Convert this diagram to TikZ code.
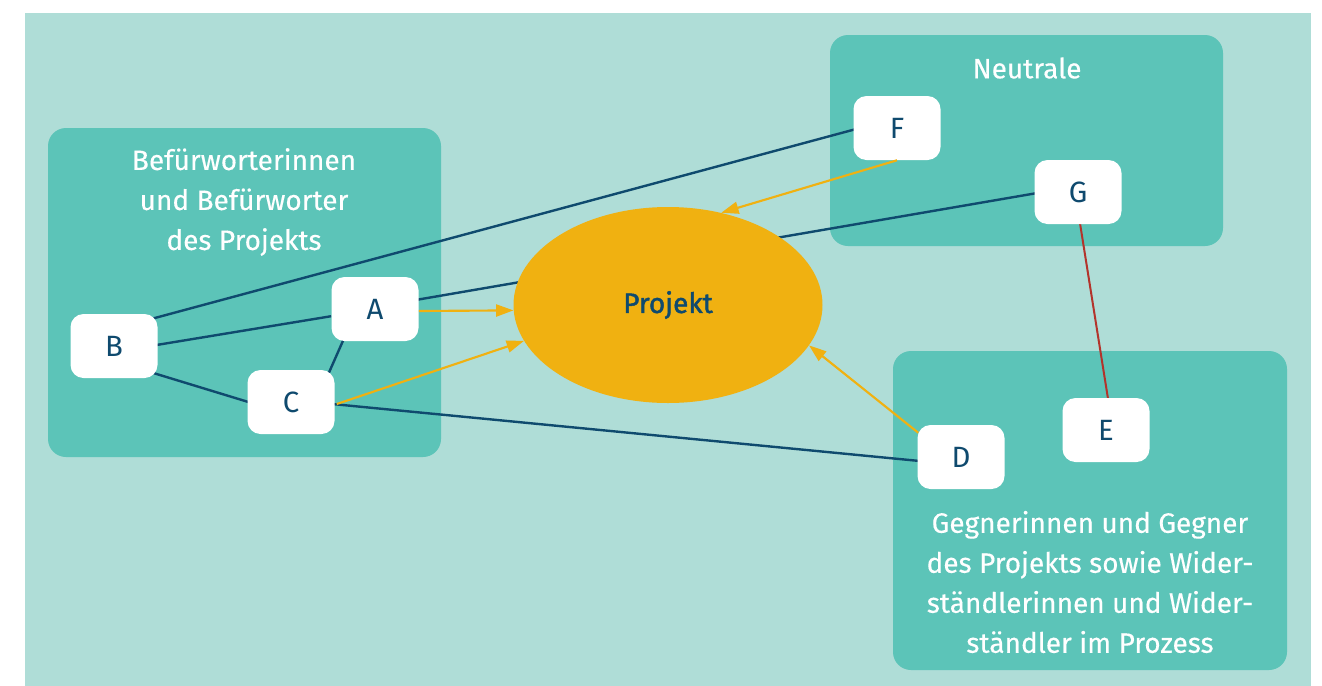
\documentclass[tikz,border=0pt]{standalone}
\usepackage{fontspec}
\setmainfont{Fira Sans}[FakeBold=0.3]
\newfontfamily\projfont{Fira Sans}[FakeBold=1.6]
\newfontfamily\actorfont{Fira Sans}
\usetikzlibrary{calc,arrows.meta,shapes.geometric}
\definecolor{bgteal}{HTML}{AFDDD7}
\definecolor{grpteal}{HTML}{5CC4B8}
\definecolor{projyellow}{HTML}{F0B111}
\definecolor{navy}{HTML}{0F4A6E}
\definecolor{redline}{HTML}{B3332B}
\pgfdeclarelayer{bg}
\pgfdeclarelayer{lines}
\pgfsetlayers{bg,lines,main}
\begin{document}
\begin{tikzpicture}[x=0.75pt,y=-0.75pt,
  group/.style={fill=grpteal, rounded corners=13.5pt, inner sep=0pt},
  grouplabel/.style={text=white, align=center, font=\fontsize{21}{30}\selectfont, inner sep=0pt},
  actor/.style={fill=white, rounded corners=9.75pt, minimum width=65.25pt, minimum height=48pt, inner sep=0pt, text=navy, font=\fontsize{22}{25}\selectfont\actorfont},
  project/.style={ellipse, fill=projyellow, minimum width=231.75pt, minimum height=147pt, inner sep=0pt, text=navy, font=\fontsize{21}{25}\selectfont\projfont},
  link/.style={navy, line width=1.8pt},
  conflict/.style={redline, line width=1.5pt},
  influence/.style={projyellow, line width=1.6pt, -{Triangle[length=13pt,width=9pt]}}]
\path[use as bounding box] (0,0) rectangle (1322,686);
\begin{pgfonlayer}{bg}
  \fill[bgteal] (25,13) rectangle (1311,686);
  \node[group, minimum width=294.75pt, minimum height=246.75pt] (pro) at (244.5,292.5) {};
  \node[group, minimum width=294.75pt, minimum height=158.25pt] (neu) at (1026.5,140.5) {};
  \node[group, minimum width=295.5pt, minimum height=239.25pt] (con) at (1090,510.5) {};
  \node[grouplabel] (prolabel) at (244,202) {Befürworterinnen\\und Befürworter\\des Projekts};
  \node[grouplabel] (neulabel) at (1027,68) {Neutrale};
  \node[grouplabel] (conlabel) at (1090,582) {Gegnerinnen und Gegner\\des Projekts sowie Wider-\\ständlerinnen und Wider-\\ständler im Prozess};
\end{pgfonlayer}
\node[project] (P) at (668,305) {Projekt};
\node[actor] (A) at (375,309) {A};
\node[actor] (B) at (114,346) {B};
\node[actor] (C) at (291,402) {C};
\node[actor] (D) at (961,457) {D};
\node[actor] (E) at (1106,430) {E};
\node[actor] (F) at (897,128) {F};
\node[actor] (G) at (1078,192) {G};
\begin{pgfonlayer}{lines}
  \draw[link] ($(B)+(0,-17)$) -- ($(F)+(0,-10)$);
  \draw[link] ($(A)+(0,-2)$) -- ($(G)+(0,-6)$);
  \draw[link] ($(B)+(0,6)$) -- (A);
  \draw[link] ($(B)+(0,15)$) -- ($(C)+(0,13)$);
  \draw[link] ($(A)+(-18,0)$) -- ($(C)+(25,0)$);
  \draw[link] ($(C)+(0,-2)$) -- ($(D)+(0,8)$);
  \draw[conflict] ($(G)+(-3,0)$) -- ($(E)+(7,0)$);
\end{pgfonlayer}
\draw[influence] ($(A.east)+(0,2)$) -- (P.182);
\draw[influence] ($(C.east)+(2,2)$) -- (P.194);
\draw[influence] (F.south) -- (P.60);
\draw[influence] ($(D.north west)+(1,8)$) -- (P.-16);
\end{tikzpicture}
\end{document}
